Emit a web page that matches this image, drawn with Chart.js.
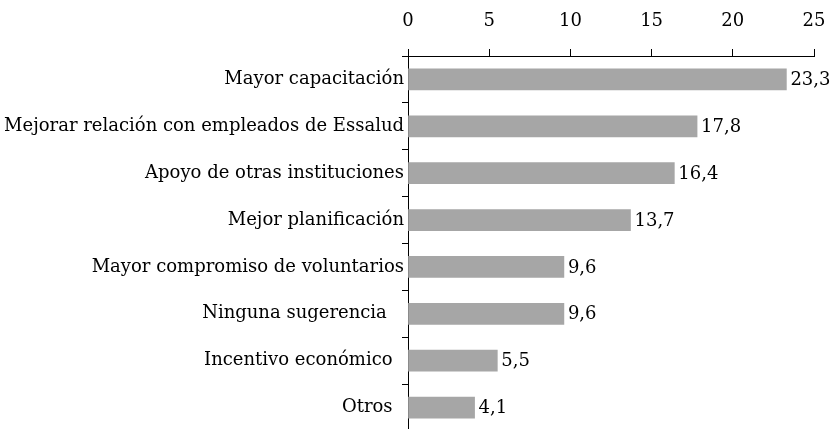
<!DOCTYPE html>
<html>
<head>
<meta charset="utf-8">
<script src="https://cdn.jsdelivr.net/npm/chart.js@4"></script>
<style>
  html, body { margin: 0; padding: 0; background: #fff; overflow: hidden; }
  #wrap { width: 836px; height: 431px; }
</style>
</head>
<body>
<div id="wrap"><canvas id="sugerenciasChart"></canvas></div>
<script>
const categories = [
  'Mayor capacitación',
  'Mejorar relación con empleados de Essalud',
  'Apoyo de otras instituciones',
  'Mejor planificación',
  'Mayor compromiso de voluntarios',
  'Ninguna sugerencia   ',
  'Incentivo económico  ',
  'Otros  '
];
const percentages = [23.3, 17.8, 16.4, 13.7, 9.6, 9.6, 5.5, 4.1];
const axisTicks = [0, 5, 10, 15, 20, 25];

const fontFamily = '"DejaVu Serif", serif';

// writes the value next to the end of each bar
const valueLabels = {
  id: 'valueLabels',
  afterDatasetsDraw(chart) {
    const ctx = chart.ctx;
    const meta = chart.getDatasetMeta(0);
    ctx.save();
    ctx.font = '18px ' + fontFamily;
    ctx.fillStyle = '#000';
    ctx.textAlign = 'left';
    ctx.textBaseline = 'middle';
    meta.data.forEach((bar, i) => {
      ctx.fillText(percentages[i].toFixed(1).replace('.', ','), bar.x + 4, bar.y + 1);
    });
    ctx.restore();
  }
};

const ctx = document.getElementById('sugerenciasChart').getContext('2d');

new Chart(ctx, {
  type: 'bar',
  data: {
    labels: categories,
    datasets: [{
      data: percentages,
      backgroundColor: '#a6a6a6',
      barThickness: 21
    }]
  },
  options: {
    indexAxis: 'y',
    responsive: true,
    maintainAspectRatio: false,
    animation: false,
    layout: { padding: { right: 22, top: 0, bottom: 0, left: 0 } },
    plugins: {
      legend: { display: false },
      tooltip: { enabled: false }
    },
    scales: {
      x: {
        position: 'top',
        min: 0,
        max: 25,
        afterBuildTicks: (scale) => { scale.ticks = axisTicks.map(v => ({ value: v })); },
        afterFit: (scale) => {
          scale.height = 56;
          scale.paddingLeft = 0;
          scale.paddingRight = 0;
        },
        grid: { drawOnChartArea: false, tickLength: 7, color: '#000' },
        border: { color: '#000', width: 1 },
        ticks: { color: '#000', font: { family: fontFamily, size: 18 }, padding: 17 }
      },
      y: {
        afterFit: (scale) => {
          scale.width = 408;
          scale.paddingTop = 0;
          scale.paddingBottom = 0;
        },
        grid: { drawOnChartArea: false, tickLength: 6, color: '#000', offset: true },
        border: { color: '#000', width: 1 },
        ticks: { color: '#000', font: { family: fontFamily, size: 18 }, padding: -2 }
      }
    }
  },
  plugins: [valueLabels]
});
</script>
</body>
</html>
